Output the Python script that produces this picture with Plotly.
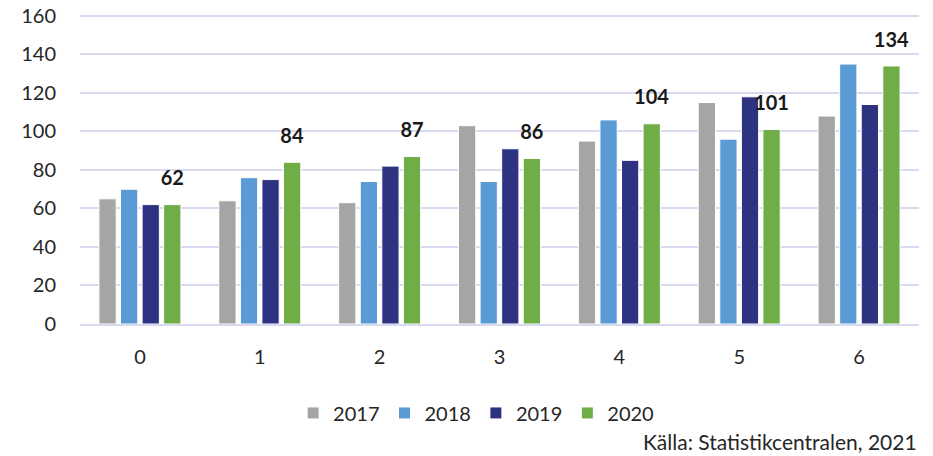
import plotly.graph_objects as go

categories = ["0", "1", "2", "3", "4", "5", "6"]
years = ["2017", "2018", "2019", "2020"]
v2017 = [65, 64, 63, 103, 95, 115, 108]
v2018 = [70, 76, 74, 74, 106, 96, 135]
v2019 = [62, 75, 82, 91, 85, 118, 114]
v2020 = [62, 84, 87, 86, 104, 101, 134]
colors = ["#a5a5a5", "#5b9bd5", "#2e3381", "#70ad47"]
y_ticks = [0, 20, 40, 60, 80, 100, 120, 140, 160]

series = [v2017, v2018, v2019, v2020]
FONT = "Lato, Open Sans, sans-serif"

fig = go.Figure()
for name, vals, col in zip(years, series, colors):
    kw = {}
    if name == "2020":
        kw = dict(
            text=[f"<span style='font-size:20px'><b>{v}</b></span><br> " for v in vals],
            textposition="outside",
            textfont=dict(size=11, color="#1a1a1a", family=FONT),
            cliponaxis=False,
            constraintext="none",
        )
    fig.add_trace(go.Bar(
        x=categories, y=vals, name=name,
        marker=dict(color=col, line=dict(color="white", width=1)),
        **kw,
    ))

# page body has an 8px default margin, so the figure is 16px smaller
fig.update_layout(
    width=925, height=448,
    margin=dict(l=72, r=14, t=6, b=132, autoexpand=False),
    plot_bgcolor="white", paper_bgcolor="white",
    barmode="group", bargap=0.28, bargroupgap=0.2,
    font=dict(family=FONT, size=20, color="#262626"),
    showlegend=True,
    legend=dict(orientation="h", x=0.254, xanchor="left", y=-0.224, yanchor="top",
                font=dict(size=20, color="#262626"), itemwidth=30,
                traceorder="normal"),
)
fig.update_yaxes(range=[0, 161], tickvals=y_ticks, showgrid=True,
                 gridcolor="#d9d9f0", gridwidth=2, zeroline=False, automargin=False,
                 ticklabeloverflow="allow",
                 ticks="", tickfont=dict(size=20, color="#262626"), ticklabelstandoff=23)
fig.update_xaxes(showline=True, linecolor="#d9d9f0", linewidth=2, automargin=False,
                 ticks="", tickfont=dict(size=20, color="#262626"), ticklabelstandoff=14)

fig.add_annotation(text="Källa: Statistikcentralen, 2021", xref="paper", yref="paper",
                   x=1.0, y=-0.38, xanchor="right", yanchor="middle", showarrow=False,
                   font=dict(size=21, color="#262626", family=FONT))

fig.write_html("out.html")
